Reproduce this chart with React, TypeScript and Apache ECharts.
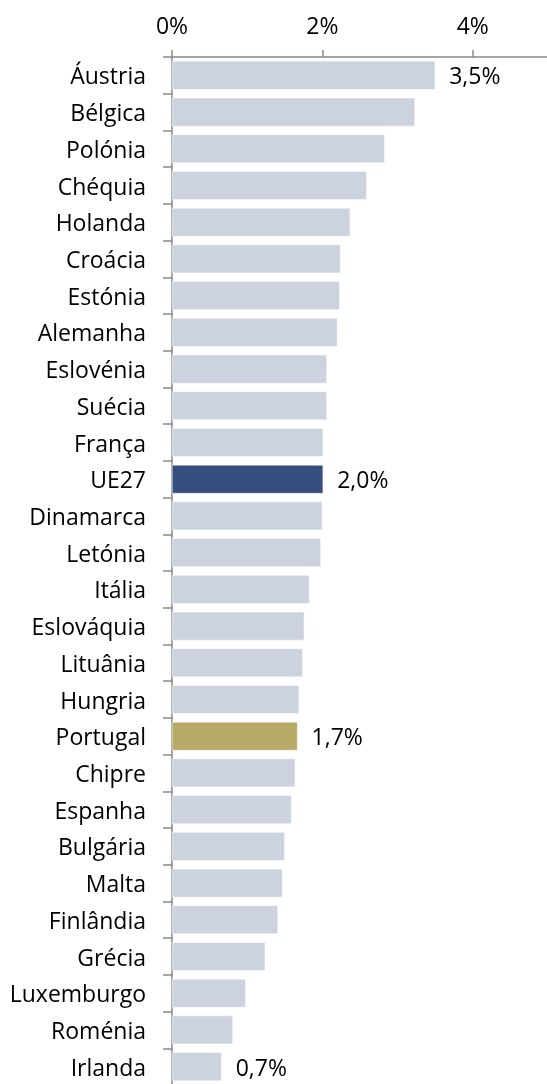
import React, { useEffect, useRef } from "react";
import * as echarts from "echarts";

const countries = [
  "Áustria", "Bélgica", "Polónia", "Chéquia", "Holanda", "Croácia", "Estónia",
  "Alemanha", "Eslovénia", "Suécia", "França", "UE27", "Dinamarca", "Letónia",
  "Itália", "Eslováquia", "Lituânia", "Hungria", "Portugal", "Chipre", "Espanha",
  "Bulgária", "Malta", "Finlândia", "Grécia", "Luxemburgo", "Roménia", "Irlanda",
];
const values = [
  3.5, 3.23, 2.83, 2.59, 2.37, 2.24, 2.23,
  2.2, 2.06, 2.06, 2.01, 2.01, 2.0, 1.98,
  1.83, 1.76, 1.74, 1.69, 1.67, 1.64, 1.59,
  1.5, 1.47, 1.41, 1.24, 0.98, 0.81, 0.66,
];
const labelled = ["Áustria", "UE27", "Portugal", "Irlanda"];
const tickValues = [0, 2, 4];

const COLOR_DEFAULT = "#ccd3df";
const COLOR_EU = "#364d80";
const COLOR_PT = "#b8ab68";
const FONT = "'Open Sans', sans-serif";

export default function App() {
  const ref = useRef<HTMLDivElement>(null);
  useEffect(() => {
    if (!ref.current) return;
    const chart = echarts.init(ref.current, undefined, { renderer: "svg" });
    const data = countries.map((c, i) => ({
      value: values[i],
      itemStyle: {
        color: c === "UE27" ? COLOR_EU : c === "Portugal" ? COLOR_PT : COLOR_DEFAULT,
        borderColor: "#ffffff",
        borderWidth: 0.5,
      },
      label: {
        show: labelled.includes(c),
        position: "right",
        distance: 14,
        fontFamily: FONT,
        fontSize: 23,
        color: "#000",
        formatter: (p: any) => p.value.toFixed(1).replace(".", ",") + "%",
      },
    }));
    chart.setOption({
      animation: false,
      grid: { left: 172, right: 12, top: 57, height: 1028 },
      xAxis: {
        type: "value",
        position: "top",
        min: 0,
        max: 5,
        interval: 2,
        splitLine: { show: false },
        axisLine: { show: true, lineStyle: { color: "#898989", width: 1.5 } },
        axisTick: {
          show: true,
          length: 7,
          customValues: tickValues,
          lineStyle: { color: "#898989", width: 1.5 },
        },
        axisLabel: {
          margin: 21,
          fontFamily: FONT,
          fontSize: 23,
          color: "#000",
          customValues: tickValues,
          formatter: (v: number) => v + "%",
        },
      },
      yAxis: {
        type: "category",
        inverse: true,
        data: countries,
        axisLine: { show: true, lineStyle: { color: "#898989", width: 1.5 } },
        axisTick: { show: true, length: 9, alignWithLabel: false, lineStyle: { color: "#898989", width: 1.5 } },
        axisLabel: { margin: 26, fontFamily: FONT, fontSize: 23, color: "#000" },
      },
      series: [
        {
          type: "bar",
          data,
          barCategoryGap: "22%",
        },
      ],
    });
    return () => chart.dispose();
  }, []);
  return (
    <div
      ref={ref}
      style={{ position: "fixed", left: 0, top: 0, width: 560, height: 1090 }}
    />
  );
}
